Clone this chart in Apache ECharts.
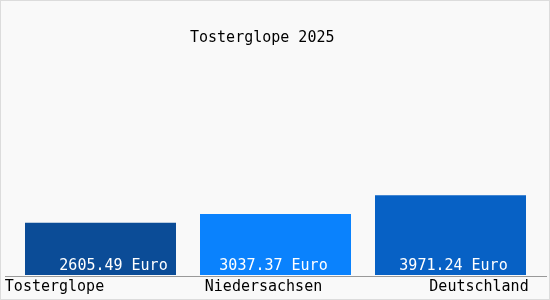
<!DOCTYPE html>
<html>
<head>
<meta charset="utf-8">
<script src="https://cdn.jsdelivr.net/npm/echarts@6/dist/echarts.min.js"></script>
<style>
    html, body { margin: 0; padding: 0; }
    #chart { width: 550px; height: 300px; box-sizing: border-box; border: 1px solid #dcdcdc; background: #f9f9f9; }
</style>
</head>
<body>
<div id="chart"></div>
<script>
    // Daten
    const titleText = 'Tosterglope 2025';
    const categories = ['Tosterglope', 'Niedersachsen', 'Deutschland'];
    const values = [2605.49, 3037.37, 3971.24];
    const barColors = ['#0b4c97', '#0a82fd', '#0761c5'];
    const unit = 'Euro';

    // Verschiebung der Achsenbeschriftungen (links, mitte, rechts)
    const labelPads = [[0, 92, 0, 0], [0, 24, 0, 0], [0, 0, 0, 57]];
    const valueOffsets = [[13, 0], [-2, 0], [3, 0]];

    const chart = echarts.init(document.getElementById('chart'));
    const font = '"DejaVu Sans Mono", monospace';

    const rich = {};
    categories.forEach(function (c, i) {
        rich['c' + i] = { padding: labelPads[i], fontSize: 15, fontFamily: font, color: '#000' };
    });

    chart.setOption({
        animation: false,
        title: {
            text: titleText,
            left: 184,
            top: 25,
            textStyle: { fontFamily: font, fontSize: 15, fontWeight: 'normal', color: '#000' }
        },
        grid: { left: 12, right: 11, top: 73, bottom: 24 },
        xAxis: {
            type: 'category',
            data: categories,
            axisLine: { show: false },
            axisTick: { show: false },
            axisLabel: {
                margin: 5,
                interval: 0,
                formatter: function (v, i) { return '{c' + i + '|' + v + '}'; },
                rich: rich
            }
        },
        yAxis: { type: 'value', min: 0, max: 10000, show: false, splitLine: { show: false } },
        graphic: [{
            type: 'line',
            shape: { x1: 4, y1: 275.5, x2: 546, y2: 275.5 },
            style: { stroke: '#999', lineWidth: 1 }
        }],
        series: [{
            type: 'bar',
            barWidth: 151,
            data: values.map(function (v, i) {
                return {
                    value: v,
                    itemStyle: { color: barColors[i] },
                    label: { offset: valueOffsets[i] }
                };
            }),
            label: {
                show: true,
                position: 'insideBottom',
                distance: 1,
                color: '#fff',
                fontFamily: font,
                fontSize: 15,
                formatter: function (p) { return p.value.toFixed(2) + ' ' + unit; }
            }
        }]
    });
</script>
</body>
</html>
